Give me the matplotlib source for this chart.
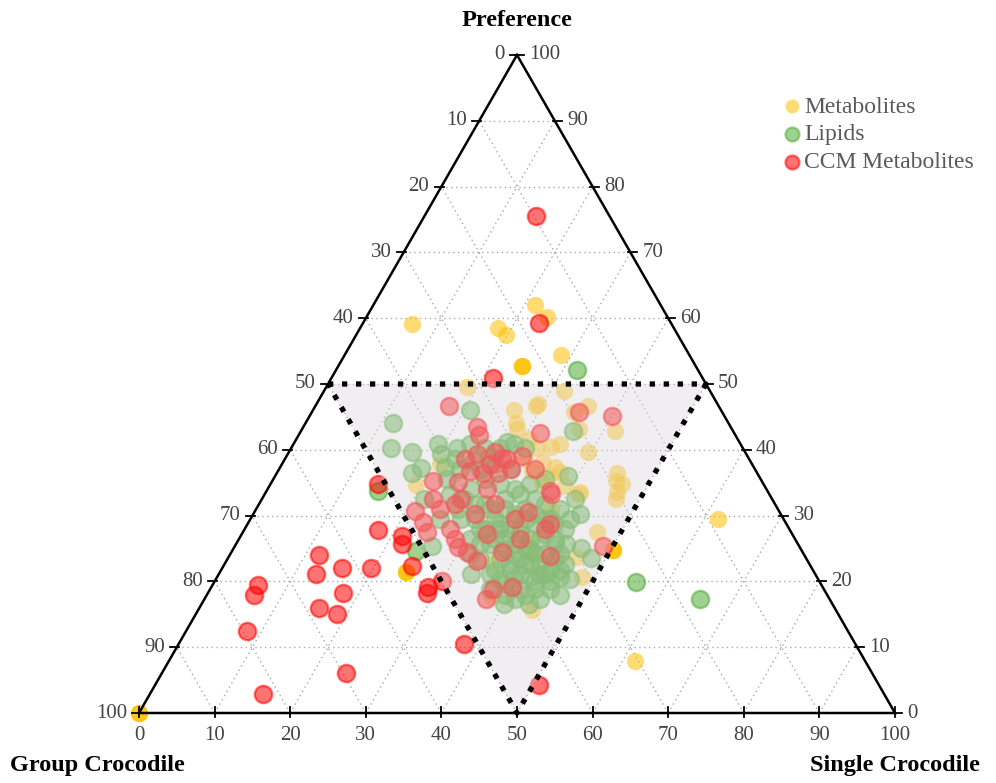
import numpy as np
import matplotlib
matplotlib.use("Agg")
import matplotlib.pyplot as plt

plt.rcParams['font.family'] = ['Liberation Serif', 'DejaVu Serif']

# Ternary values (percent): Preference and Single Crocodile; Group = 100 - both
metab_pref = [59.1, 62.0, 60.2, 58.5, 57.4, 54.4, 52.8, 52.8, 52.8, 49.6, 29.5, 7.9,
              0.0, 0.0, 0.0, 21.4, 21.4, 21.4, 24.7, 24.7, 24.7, 15.6, 20.6, 48.9,
              47.0, 46.7, 46.0, 46.6, 45.7, 42.9, 43.2, 44.0, 43.2, 41.7, 40.5, 39.6,
              40.2, 38.2, 37.4, 36.7, 36.4, 35.3, 34.8, 33.6, 33.6, 35.1, 36.0, 36.8,
              37.9, 34.7, 33.3, 32.5, 27.5, 23.7, 17.7, 22.9, 34.5, 38.6, 40.9, 30.0,
              26.0, 24.0, 31.0]
metab_single = [6.5, 21.4, 23.9, 18.2, 19.8, 28.6, 24.3, 24.3, 24.3, 18.6, 61.9, 61.7,
                0.0, 0.0, 0.0, 24.6, 24.6, 24.6, 50.3, 50.3, 50.3, 44.2, 48.3, 31.8,
                29.3, 29.1, 26.6, 36.1, 34.7, 41.5, 36.6, 27.9, 28.4, 30.7, 34.2, 39.6,
                32.5, 34.3, 36.3, 37.4, 45.0, 45.4, 46.5, 46.4, 41.5, 35.8, 36.4, 33.6,
                20.8, 19.3, 41.6, 46.9, 46.8, 45.9, 37.9, 35.2, 39.1, 31.8, 35.2, 35.0,
                38.5, 40.5, 39.0]

lipid_pref = [52.2, 33.8, 24.6, 19.9, 17.3, 46.1, 44.0, 40.2, 39.7, 40.9, 39.4, 40.2,
              38.6, 36.4, 37.3, 42.9, 36.0, 41.2, 25.4, 25.0, 23.5, 16.5,
              37.4, 37.1, 38.3, 38.9, 40.2, 40.9, 40.2, 35.6, 34.1, 33.3, 29.5, 29.5,
              28.0, 29.5, 32.5, 33.3, 32.5, 31.8, 31.0, 26.4, 25.7, 26.4, 24.1, 24.9,
              26.4, 25.7, 28.0, 29.5, 23.4, 21.8, 22.6, 22.6, 22.6, 23.4, 22.6, 20.3,
              20.3, 20.6, 21.1, 20.6, 18.8, 18.8, 18.8, 18.0, 17.3, 37.1, 34.8, 35.6,
              31.0, 28.0, 28.7, 29.5, 32.5, 30.2, 28.0, 31.8, 31.0, 20.3, 18.8, 17.3,
              16.5, 21.1, 18.0, 32.5, 35.6,
              31.0, 30.2, 29.5, 30.2, 29.5, 28.7, 28.7, 28.0, 27.2, 26.4, 27.2, 26.4,
              26.4, 24.9, 25.7, 24.9, 24.1, 24.1, 23.4, 21.8, 23.4, 22.6, 21.1, 21.8,
              21.8, 21.1, 19.6, 21.1, 20.0, 20.0, 29.5, 28.0, 25.7, 24.1, 31.0, 32.5,
              31.8, 24.1, 25.7, 18.0, 40.9, 40.2, 37.9, 37.1, 34.8, 34.1]
lipid_single = [31.8, 14.7, 24.3, 55.8, 65.5, 20.7, 11.6, 13.2, 16.3, 19.1, 20.2, 22.0,
                22.5, 17.9, 18.7, 35.9, 38.7, 28.1, 26.1, 46.0, 48.1, 40.0,
                21.8, 23.9, 25.2, 26.9, 27.7, 29.2, 31.0, 28.0, 26.8, 24.5, 25.1, 27.8,
                31.1, 32.4, 32.1, 33.8, 36.1, 37.8, 40.2, 30.6, 33.6, 35.2, 37.6, 39.3,
                39.8, 42.2, 42.4, 42.3, 33.4, 36.2, 37.8, 39.8, 41.7, 43.3, 45.1, 37.6,
                39.5, 41.4, 43.2, 45.4, 41.0, 43.0, 45.0, 39.4, 44.4, 30.7, 34.3, 35.9,
                26.7, 36.4, 38.0, 39.7, 41.4, 43.2, 33.8, 29.9, 35.6, 46.8, 37.0, 41.1,
                43.3, 33.3, 46.7, 21.5, 22.9,
                32.9, 34.6, 36.4, 37.3, 39.0, 40.6, 33.4, 35.1, 36.8, 38.5, 40.1, 41.8,
                33.9, 36.0, 36.9, 38.7, 40.3, 41.6, 36.1, 38.2, 38.7, 40.4, 42.5, 43.5,
                44.8, 35.9, 38.6, 39.9, 42.4, 44.4, 29.7, 31.8, 32.3, 31.7, 30.9, 26.8,
                28.5, 43.6, 43.6, 42.1, 23.3, 25.7, 28.2, 26.5, 30.4, 32.7]

ccm_pref = [75.6, 59.3, 50.9, 34.8, 27.8, 26.9, 25.7, 22.3, 22.0, 22.1, 18.3, 19.1,
            18.3, 20.0, 15.1, 10.5, 6.1, 4.3, 24.0, 21.1, 15.9, 19.4, 17.9, 12.5,
            2.9, 45.2, 42.6, 46.7, 43.5, 42.2, 45.8, 25.4, 35.3, 39.3, 39.6, 38.8,
            36.8, 36.4, 36.5, 35.1, 34.1, 38.6, 39.1, 37.1, 33.8, 30.7, 29.0, 27.5,
            32.5, 31.0, 28.0, 26.4, 25.2, 24.4, 23.1, 27.2, 24.4, 18.8, 33.3, 30.5,
            28.7, 23.8, 19.1, 32.5, 30.2, 31.8, 29.5, 26.4, 31.8, 37.9, 38.6, 37.1,
            17.3, 27.9]
ccm_single = [14.7, 23.3, 21.4, 14.2, 17.7, 21.4, 21.9, 25.0, 15.9, 19.6, 17.9, 28.7,
              28.9, 30.1, 18.6, 37.8, 24.3, 50.8, 11.8, 12.8, 15.8, 6.0, 6.2, 8.0,
              14.9, 40.0, 31.7, 17.6, 23.0, 23.9, 35.3, 48.7, 21.3, 25.1, 27.3, 28.6,
              25.4, 27.3, 29.2, 24.6, 29.0, 29.4, 31.1, 30.7, 37.5, 21.1, 23.1, 24.4,
              22.6, 24.3, 27.1, 28.6, 29.6, 31.2, 33.2, 32.4, 35.8, 37.4, 37.8, 36.2,
              40.0, 42.5, 39.8, 26.4, 29.3, 31.2, 35.0, 37.2, 25.9, 27.5, 23.8, 33.8,
              37.2, 39.7]

series = [
    ("Metabolites", metab_pref, metab_single, "#FFC000", 0.55, 0.0),
    ("Lipids", lipid_pref, lipid_single, "#50AC37", 0.55, 1.7),
    ("CCM Metabolites", ccm_pref, ccm_single, "#FF0000", 0.55, 1.7),
]

H = np.sqrt(3) / 2


def tern_xy(pref, single):
    pref = np.asarray(pref, float)
    single = np.asarray(single, float)
    return single + pref / 2, pref * H


fig = plt.figure(figsize=(9.96, 7.83), dpi=100)
ax = fig.add_axes([0, 0, 1, 1])
ax.set_xlim(-139 / 7.56, (996 - 139) / 7.56)
ax.set_ylim(-70 / 7.598, 713 / 7.598)
ax.axis('off')

# grid lines
grid_kw = dict(color='#a8a8a8', lw=1.0, ls=(0, (1, 2.5)), zorder=1)
for k in range(10, 100, 10):
    x, y = tern_xy([k, k], [0, 100 - k])
    ax.plot(x, y, **grid_kw)
    x, y = tern_xy([0, 100 - k], [k, k])
    ax.plot(x, y, **grid_kw)
    x, y = tern_xy([0, 100 - k], [100 - k, 0])
    ax.plot(x, y, **grid_kw)

# points
for name, p, s, c, a, lw in series:
    x, y = tern_xy(p, s)
    ax.scatter(x, y, s=155, color=c, alpha=a, edgecolors=c, linewidths=lw,
               zorder=2, label=name, clip_on=False)

# shaded central region
rx, ry = tern_xy([50, 50, 0, 50], [0, 50, 50, 0])
ax.fill(rx, ry, color='#dcd6dc', alpha=0.4, lw=0, zorder=3)
ax.plot(rx, ry, color='black', lw=3.8, ls=':', zorder=4)

# triangle frame
tx, ty = tern_xy([0, 0, 100, 0], [0, 100, 0, 0])
ax.plot(tx, ty, color='black', lw=1.8, zorder=5, solid_joinstyle='miter')

tick_color = '#444444'
for k in range(0, 101, 10):
    # bottom axis: Single Crocodile
    ax.plot([k, k], [-0.5, 0.8], color='black', lw=1.3, zorder=5)
    ax.text(k, -2.9, str(k), ha='center', va='center', fontsize=15, color=tick_color)
    # left axis: Group Crocodile
    lx, ly = tern_xy(k, 0)
    ax.plot([lx - 0.9, lx + 0.3], [ly, ly], color='black', lw=1.3, zorder=5)
    ax.text(lx - 1.6, ly, str(100 - k), ha='right', va='center', fontsize=15, color=tick_color)
    # right axis: Preference
    rx_, ry_ = tern_xy(k, 100 - k)
    ax.plot([rx_ - 0.3, rx_ + 0.9], [ry_, ry_], color='black', lw=1.3, zorder=5)
    ax.text(rx_ + 1.6, ry_, str(k), ha='left', va='center', fontsize=15, color=tick_color)

ax.text(50, (713 - 20) / 7.598, 'Preference', ha='center', va='center',
        fontsize=17.5, fontweight='bold')
ax.text((10 - 139) / 7.56, (713 - 765) / 7.598, 'Group Crocodile', ha='left',
        va='center', fontsize=17.5, fontweight='bold')
ax.text((980 - 139) / 7.56, (713 - 765) / 7.598, 'Single Crocodile', ha='right',
        va='center', fontsize=17.5, fontweight='bold')

leg = ax.legend(loc='upper left', bbox_to_anchor=(783 / 996, 1 - 96 / 783),
                frameon=False, fontsize=17, handletextpad=0.1, labelspacing=0.26,
                borderpad=0, borderaxespad=0, handlelength=0.8, markerscale=0.8)
for t in leg.get_texts():
    t.set_color('#595959')

fig.savefig('out.png', dpi=100)
